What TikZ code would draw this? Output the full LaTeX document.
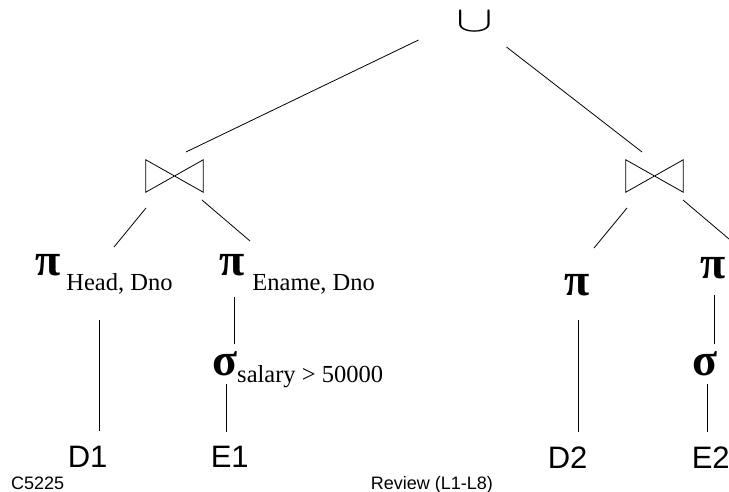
\documentclass[tikz,border=0pt]{standalone}
\usepackage{fontspec}
\usepackage{graphicx}
\usetikzlibrary{calc}
\newfontfamily\serf{Liberation Serif}
\newfontfamily\sanf{Liberation Sans}
\newcommand{\opf}{\serf\bfseries\fontsize{46}{46}\selectfont}
\newcommand{\subf}{\serf\fontsize{24.5}{24.5}\selectfont}
\newcommand{\bigf}{\sanf\fontsize{31}{31}\selectfont}
\newcommand{\footf}{\sanf\fontsize{18}{18}\selectfont}
\begin{document}
\begin{tikzpicture}[x=1pt,y=-1pt,
  lbl/.style={inner sep=0pt,anchor=base west},
  bowtie/.style={inner sep=0pt,minimum width=57pt,minimum height=32pt},
  edge/.style={line width=0.8pt,black}]
\useasboundingbox[fill=white] (0,0) rectangle (729,492);
% operators
\node[inner sep=0pt] (u) at (474.5,22) {\scalebox{5.5}[3.6]{$\cup$}};
\node[bowtie] (j1) at (174.5,176) {};
\node[bowtie] (j2) at (654.5,176) {};
\draw[edge] (j1.north west) -- (j1.south west) -- (j1.north east) -- (j1.south east) -- cycle;
\draw[edge] (j2.north west) -- (j2.south west) -- (j2.north east) -- (j2.south east) -- cycle;
\node[lbl] (p1) at (35,275) {{\opf π}\hspace{6pt}\raisebox{-15pt}{\subf Head, Dno}};
\node[lbl] (p2) at (219,275) {{\opf π}\hspace{8pt}\raisebox{-15pt}{\subf Ename, Dno}};
\node[lbl] (p3) at (564,295) {\opf π};
\node[lbl] (p4) at (700,279) {\opf π};
\node[lbl] (s1) at (212,375) {{\opf σ}\hspace{0pt}\raisebox{-7pt}{\subf salary > 50000}};
\node[lbl] (s2) at (692,375) {\opf σ};
% relations
\node[lbl] (d1) at (67.6,467) {\bigf D1};
\node[lbl] (e1) at (210.6,467) {\bigf E1};
\node[lbl] (d2) at (547.6,468) {\bigf D2};
\node[lbl] (e2) at (691.6,468) {\bigf E2};
% footer
\node[lbl] (c) at (11,489) {\footf C5225};
\node[lbl] (r) at (370.6,489) {\footf Review (L1-L8)};
% connectors
\draw[edge] ($(u)+(-56,18)$) -- ($(j1)+(11.5,-24)$);
\draw[edge] ($(u)+(32,25)$) -- ($(j2)+(-12.5,-24)$);
\draw[edge] ($(j1)+(-28.5,32)$) -- ($(p1.base west)+(79,-28)$);
\draw[edge] ($(j1)+(27.5,24)$) -- ($(p2.base west)+(31,-34)$);
\draw[edge] ($(j2)+(-27.5,32)$) -- ($(p3.base west)+(30,-47)$);
\draw[edge] ($(j2)+(28.5,24)$) -- ($(p4.base west)+(29,-40)$);
\draw[edge] ($(p1.base west)+(64,45)$) -- ($(d1.base west)+(31.4,-36)$);
\draw[edge] ($(p2.base west)+(15,22)$) -- ($(s1.base west)+(22,-31)$);
\draw[edge] ($(s1.base west)+(14,9)$) -- ($(e1.base west)+(15.4,-35)$);
\draw[edge] ($(p3.base west)+(14,25)$) -- ($(d2.base west)+(30.4,-36)$);
\draw[edge] ($(p4.base west)+(14,16)$) -- ($(s2.base west)+(22,-31)$);
\draw[edge] ($(s2.base west)+(15,9)$) -- ($(e2.base west)+(15.4,-36)$);
\end{tikzpicture}
\end{document}
